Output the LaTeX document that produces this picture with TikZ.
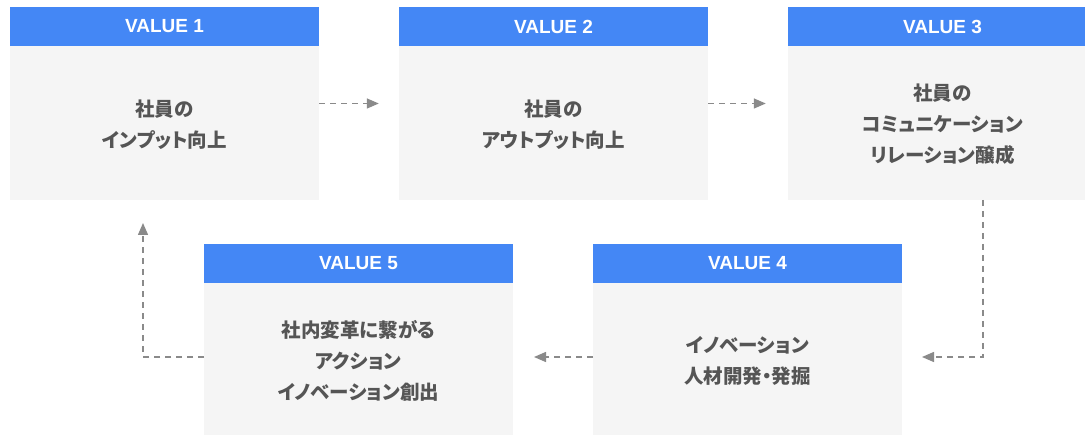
\documentclass[tikz,border=0pt]{standalone}
\usepackage{fontspec}
\setmainfont{Liberation Sans}
\newfontfamily\jp{Noto Sans CJK JP}[RawFeature=+palt]
\usetikzlibrary{arrows.meta,positioning}
\definecolor{hblue}{HTML}{4487F5}
\definecolor{bodyg}{HTML}{F5F5F5}
\definecolor{txtg}{HTML}{555555}
\definecolor{arrg}{HTML}{8A8A8A}
\tikzset{
  boxbg/.style={fill=bodyg, draw=none, minimum width=309pt, minimum height=193pt, inner sep=0pt},
  hdr/.style={fill=hblue, draw=none, minimum width=309pt, minimum height=39pt, inner sep=0pt,
    text=white, font=\bfseries\fontsize{19}{19}\selectfont, anchor=north},
  bodytxt/.style={text=txtg, align=center, font=\jp\bfseries\fontsize{19.5}{31}\selectfont},
  conn/.style={draw=arrg, line width=1.4pt, dash pattern=on 6pt off 5pt,
    -{Triangle[length=12pt,width=10pt]}}
}
\begin{document}
\begin{tikzpicture}[x=1pt,y=-1pt]
\useasboundingbox (0,0) rectangle (1085,435);
% boxes
\node[boxbg] (v1) at (164.5,103.5) {};
\node[boxbg] (v2) at (553.5,103.5) {};
\node[boxbg] (v3) at (942.5,103.5) {};
\node[boxbg] (v4) at (747.5,340.5) {};
\node[boxbg] (v5) at (358.5,340.5) {};
\node[hdr] (h1) at (v1.north) {VALUE 1};
\node[hdr] (h2) at (v2.north) {VALUE 2};
\node[hdr] (h3) at (v3.north) {VALUE 3};
\node[hdr] (h4) at (v4.north) {VALUE 4};
\node[hdr] (h5) at (v5.north) {VALUE 5};
\node[bodytxt] (t1) at (164.5,125) {社員の\\インプット向上};
\node[bodytxt] (t2) at (553.5,125) {社員の\\アウトプット向上};
\node[bodytxt] (t3) at (942.5,124) {社員の\\コミュニケーション\\リレーション醸成};
\node[bodytxt] (t4) at (747.5,361) {イノベーション\\人材開発・発掘};
\node[bodytxt] (t5) at (358.5,361) {社内変革に繋がる\\アクション\\イノベーション創出};
% connectors
\draw[conn, shorten >=20pt] (v1.east) -- (v2.west);
\draw[conn, shorten >=22pt] (v2.east) -- (v3.west);
\coordinate (s3) at (983,200);
\coordinate (e4) at (902,357);
\draw[conn, shorten >=20pt] (s3) |- (e4);
\coordinate (s4) at (593,357);
\coordinate (e5) at (513,357);
\draw[conn, shorten >=21pt] (s4) -- (e5);
\coordinate (s5) at (204,357);
\coordinate (e1) at (143,200);
\draw[conn, shorten >=23pt] (s5) -| (e1);
\end{tikzpicture}
\end{document}
